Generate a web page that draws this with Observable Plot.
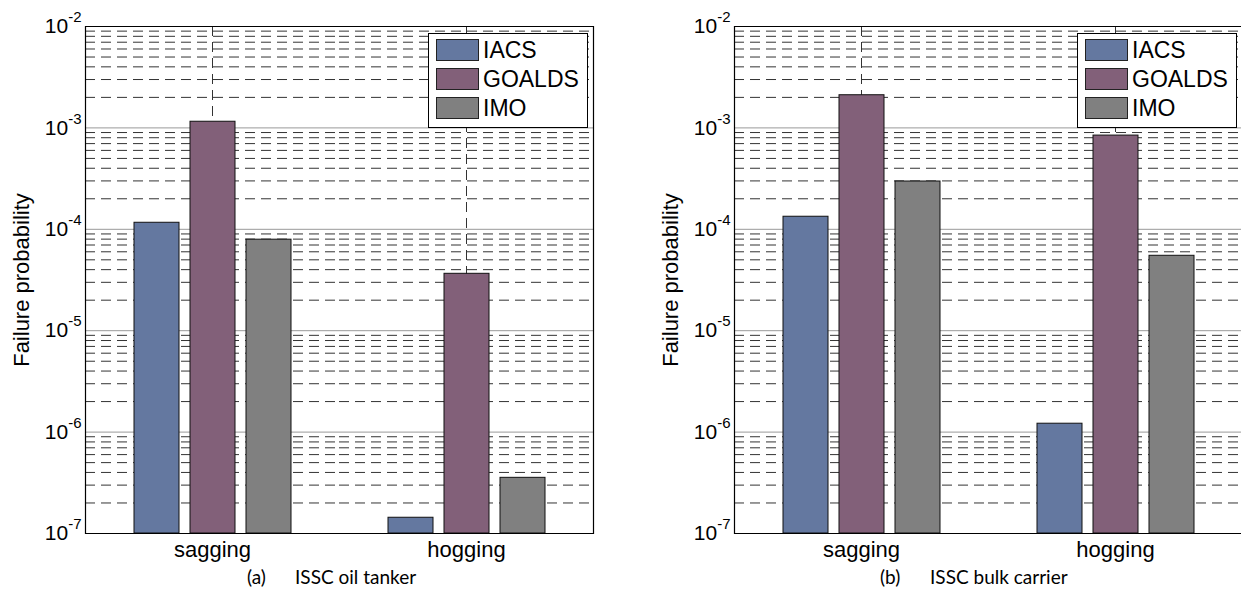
<!DOCTYPE html>
<html>
<head>
<meta charset="utf-8">
<script src="https://cdn.jsdelivr.net/npm/d3@7"></script>
<script src="https://cdn.jsdelivr.net/npm/@observablehq/plot@0.6"></script>
<style>
  body { margin: 0; background: #fff; }
  #wrap { position: relative; width: 1241px; height: 596px; overflow: hidden; font-family: "Liberation Sans", Arial, sans-serif; }
  .panel { position: absolute; top: 0; }
  .legend { position: absolute; top: 33px; width: 158px; height: 93px; border: 1px solid #000; background: #fff; }
  .legend .sw { position: absolute; left: 7px; width: 41px; height: 20px; border: 1px solid #222; }
  .legend .lb { position: absolute; left: 54px; font-size: 23px; line-height: 22px; color: #000; }
  .cap { position: absolute; top: 565px; font-family: Lato, "Open Sans", sans-serif; font-size: 19px; color: #000; white-space: nowrap; }
</style>
</head>
<body>
<div id="wrap"></div>
<script>
// ---- data ----
const categories = ["sagging", "hogging"];
const series = ["IACS", "GOALDS", "IMO"];
const colors = ["#6478a0", "#826079", "#808080"];
// values by category (rows) and series (columns)
const tankerSagging = [1.16e-4, 1.15e-3, 7.9e-5];
const tankerHogging = [1.43e-7, 3.64e-5, 3.54e-7];
const bulkSagging = [1.33e-4, 2.1e-3, 2.96e-4];
const bulkHogging = [1.21e-6, 8.4e-4, 5.48e-5];
const decadeTicks = [1e-7, 1e-6, 1e-5, 1e-4, 1e-3, 1e-2];
const tickLabels = ["10^-7", "10^-6", "10^-5", "10^-4", "10^-3", "10^-2"];
const panelLetters = ["(a)", "(b)"];
const panelTitles = ["ISSC oil tanker", "ISSC bulk carrier"];
const yLabel = "Failure probability";

const wrap = document.getElementById("wrap");
const font = "'Liberation Sans', Arial, sans-serif";

function buildPanel(sag, hog, panelLeft, letterLeft, titleLeft, idx) {
  const rows = [];
  [sag, hog].forEach((vals, i) => series.forEach((s, j) => rows.push({category: categories[i], series: s, value: vals[j]})));
  const allTicks = d3.scaleLog().domain([1e-7, 1e-2]).ticks();
  const minor = allTicks.filter(t => !decadeTicks.some(d => Math.abs(d - t) / d < 1e-9));
  const chart = Plot.plot({
    width: 620,
    height: 570,
    marginLeft: 85,
    marginRight: 27,
    marginTop: 26,
    marginBottom: 37,
    style: {fontFamily: font, fontSize: "22px", background: "transparent", color: "#000", overflow: "visible"},
    y: {type: "log", domain: [1e-7, 1e-2], axis: null},
    x: {domain: series, paddingInner: 0.204, paddingOuter: 0.85, axis: null},
    fx: {domain: categories, paddingInner: 0, paddingOuter: 0, axis: null},
    color: {domain: series, range: colors},
    marks: [
      Plot.ruleY(minor, {stroke: "#333", strokeWidth: 1, strokeDasharray: "10,6"}),
      Plot.ruleY(decadeTicks, {stroke: "#999", strokeWidth: 1}),
      Plot.ruleX(categories, {fx: d => d, x: null, stroke: "#333", strokeWidth: 1, strokeDasharray: "10,6"}),
      Plot.barY(rows, {fx: "category", x: "series", y1: 1e-7, y2: "value", fill: "series", stroke: "#111", strokeWidth: 1}),
      Plot.ruleY([1e-2, 1e-7], {stroke: "#000", strokeWidth: 1.2}),
      Plot.frame({anchor: "left", facetAnchor: "left", stroke: "#000", strokeWidth: 1.2}),
      Plot.frame({anchor: "right", facetAnchor: "right", stroke: "#000", strokeWidth: 1.2}),
      Plot.axisY({
        ticks: decadeTicks,
        tickFormat: d => tickLabels[decadeTicks.findIndex(t => Math.abs(t - d) / t < 1e-9)],
        tickSize: 0, tickPadding: 4, fontSize: 21,
        label: yLabel, labelAnchor: "center", labelArrow: "none", labelOffset: 72
      }),
      Plot.axisFx({anchor: "bottom", tickSize: 0, tickPadding: 8, fontSize: 22, label: null})
    ]
  });
  // superscript exponents
  chart.querySelectorAll('[aria-label="y-axis tick label"] text').forEach(t => {
    t.setAttribute("font-size", "21");
    const parts = t.textContent.split("^");
    if (parts.length === 2) {
      t.textContent = parts[0];
      const ts = document.createElementNS("http://www.w3.org/2000/svg", "tspan");
      ts.setAttribute("dy", "-11");
      ts.setAttribute("font-size", "15");
      ts.textContent = parts[1];
      t.appendChild(ts);
    }
  });
  chart.querySelectorAll('[aria-label="fx-axis tick label"] text').forEach(t => t.setAttribute("font-size", "22"));
  const lab = chart.querySelector('[aria-label="y-axis label"] text');
  if (lab) lab.setAttribute("font-size", "22");
  chart.classList.add("panel");
  chart.style.left = panelLeft + "px";
  wrap.appendChild(chart);

  // legend
  const lg = document.createElement("div");
  lg.className = "legend";
  lg.style.left = (panelLeft + 428) + "px";
  series.forEach((s, j) => {
    const sw = document.createElement("div");
    sw.className = "sw";
    sw.style.top = (5 + j * 29) + "px";
    sw.style.background = colors[j];
    lg.appendChild(sw);
    const lb = document.createElement("div");
    lb.className = "lb";
    lb.style.top = (5 + j * 29) + "px";
    lb.textContent = s;
    lg.appendChild(lb);
  });
  wrap.appendChild(lg);

  // caption
  const c1 = document.createElement("div");
  c1.className = "cap"; c1.style.left = letterLeft + "px"; c1.textContent = panelLetters[idx];
  const c2 = document.createElement("div");
  c2.className = "cap"; c2.style.left = titleLeft + "px"; c2.textContent = panelTitles[idx];
  wrap.appendChild(c1); wrap.appendChild(c2);
}

buildPanel(tankerSagging, tankerHogging, 0, 247, 295, 0);
buildPanel(bulkSagging, bulkHogging, 649, 880, 930, 1);
</script>
</body>
</html>
